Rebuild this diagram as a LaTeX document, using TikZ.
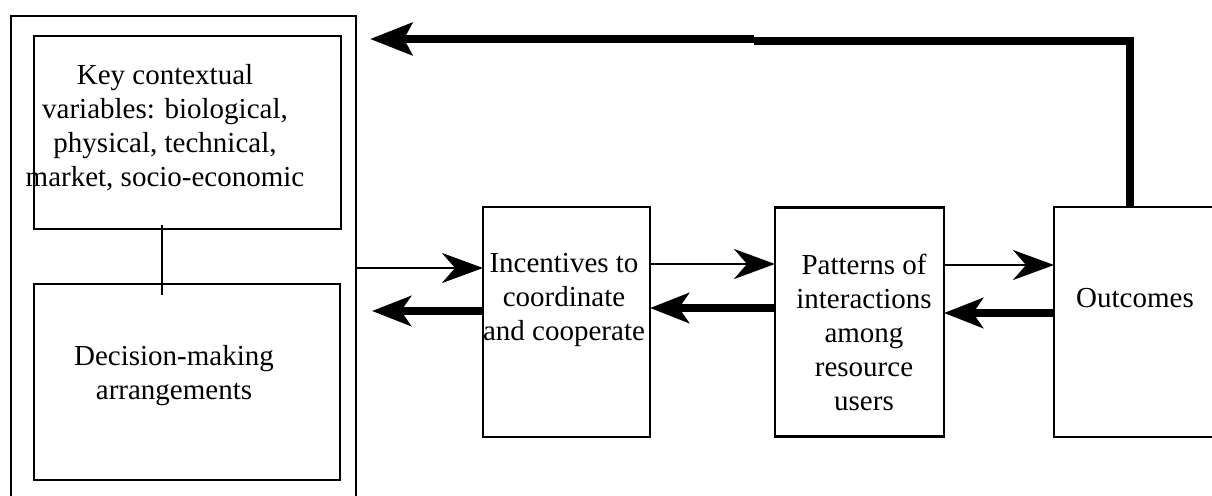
\documentclass[tikz,border=0pt]{standalone}
\usepackage{fontspec}
\setmainfont{Liberation Serif}
\usetikzlibrary{arrows.meta,positioning}
\tikzset{
  iadbox/.style={draw, line width=2.8pt, inner sep=0pt, outer sep=0pt},
  iadtxt/.style={align=center, inner sep=0pt},
  iadline/.style={line width=2.8pt},
  iadarr/.style={-{Stealth[length=41pt, width=30pt, inset=13pt]}, line width=2.6pt},
  iadarrbk/.style={-{Stealth[length=39pt, width=30pt, inset=10pt]}, line width=8pt},
  iadfb/.style={line width=7.5pt},
  iadfbarr/.style={-{Stealth[length=42pt, width=32pt, inset=8pt]}, line width=8.5pt}
}

\begin{document}
\begin{tikzpicture}[x=1pt, y=-1pt, font=\fontsize{29}{34}\selectfont, node distance=125pt]
  \useasboundingbox (0,0) rectangle (1212,495);
  \clip (0,0) rectangle (1212,495);
  % left block
  \node[iadbox, minimum width=345pt, minimum height=489pt] (outer) at (183.5,260.5) {};
  \node[iadbox, minimum width=307pt, minimum height=193pt] (ctx) at (187.5,132.5) {};
  \node[iadbox, minimum width=306pt, minimum height=196pt] (dec) at (187,382) {};
  \node[iadtxt] (ctxtxt) at (165,127.5) {Key contextual\\variables: biological,\\physical, technical,\\market, socio-economic};
  \node[iadtxt] (dectxt) at (174,376) {Decision-making\\arrangements};
  \draw[iadline] ([xshift=-25.5pt,yshift=4pt]ctx.south) -- ([xshift=-25pt,yshift=-11pt]dec.north);
  % action arena and outcomes
  \node[iadbox, minimum width=167pt, minimum height=230pt] (inc) at (566.5,322) {};
  \node[iadbox, minimum width=169pt, minimum height=229pt, right=of inc] (pat) {};
  \node[iadbox, minimum width=162pt, minimum height=230pt, right=110pt of pat] (out) {};
  \node[iadtxt] (inctxt) at (564,299.5) {Incentives to\\coordinate\\and cooperate};
  \node[iadtxt] (pattxt) at (864,332.5) {Patterns of\\interactions\\among\\resource\\users};
  \node[iadtxt] (outtxt) at (1135,298.5) {Outcomes};
  % forward and back links
  \draw[iadarr] ([yshift=-7.5pt]outer.east) -- ([yshift=54pt]inc.west);
  \draw[iadarrbk] ([yshift=11pt]inc.west) -- ([xshift=16pt,yshift=-50.5pt]outer.east);
  \draw[iadarr] ([yshift=58pt]inc.east) -- ([yshift=58pt]pat.west);
  \draw[iadarrbk] ([yshift=14pt]pat.west) -- ([yshift=14pt]inc.east);
  \draw[iadarr] ([yshift=57pt]pat.east) -- ([yshift=57pt]out.west);
  \draw[iadarrbk] ([yshift=9pt]out.west) -- ([yshift=9pt]pat.east);
  % feedback
  \coordinate (fbjog) at (754,41);
  \coordinate (fbtip) at (370,39);
  \draw[iadfb] ([xshift=-5pt]out.north) |- (fbjog);
  \draw[iadfbarr] (fbjog |- fbtip) -- (fbtip);
\end{tikzpicture}
\end{document}
